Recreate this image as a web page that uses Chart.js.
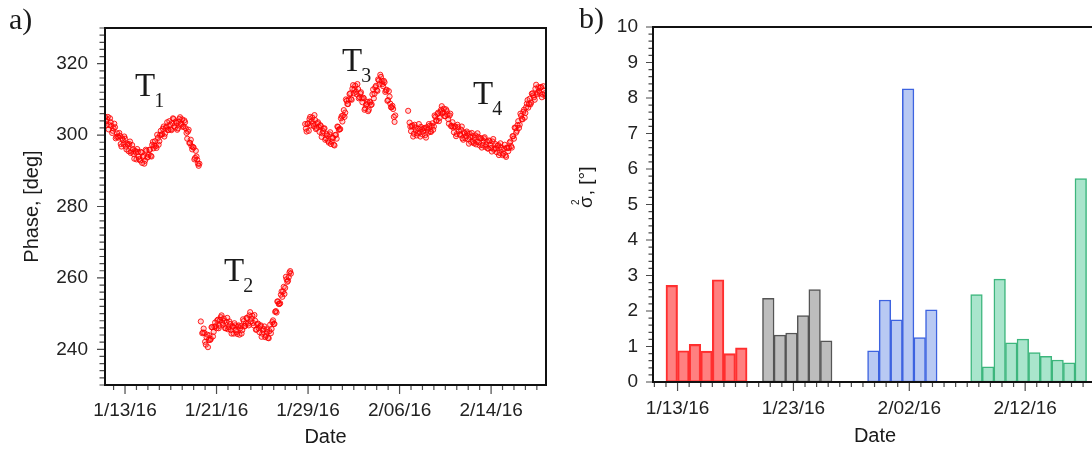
<!DOCTYPE html>
<html>
<head>
<meta charset="utf-8">
<title>Phase / sigma</title>
<script src="https://cdn.jsdelivr.net/npm/chart.js@4.4.1/dist/chart.umd.min.js"></script>
<style>
    html, body { margin: 0; padding: 0; background: #fff; overflow: hidden; }
    #wrap { position: relative; width: 1092px; height: 450px; overflow: hidden; }
    #chartFase { position: absolute; left: 0; top: 0; }
    #chartSigma { position: absolute; left: 560px; top: 0; }
</style>
</head>
<body>
<div id="wrap">
    <canvas id="chartFase" width="560" height="450"></canvas>
    <canvas id="chartSigma" width="550" height="450"></canvas>
</div>
<script>
// Fase [deg] por tramo, una lectura cada 3 h (dias contados desde 1/13/16)
const pasoDias = 0.125;

const inicioT1 = -1.75;
const faseT1 = [
    305.1, 302.8, 305.1, 302.8, 303.6, 300.6, 301.9, 302.2, 299.5, 299.6,
    300.6, 297.5, 299.1, 297.5, 299.0, 296.0, 297.3, 297.5, 295.0, 297.2,
    294.7, 295.6, 293.2, 295.3, 293.3, 295.3, 292.2, 294.2, 292.8, 295.6,
    293.9, 295.9, 294.2, 297.3, 296.3, 298.3, 296.4, 299.2, 298.3, 301.2,
    300.3, 302.4, 300.4, 302.4, 301.4, 303.9, 301.6, 303.4, 304.5, 302.1,
    303.4, 301.9, 304.5, 302.9, 304.4, 302.4, 303.6, 300.6, 301.0, 297.8,
    298.7, 296.0, 296.5, 293.6, 294.0, 292.0, 292.0
];
// lecturas intermedias (1.5 h despues)
const inicioT1b = -1.6875;
const faseT1b = [
    303.9, 304.4, 301.6, 304.7, 302.6, 301.2, 303.2, 299.1, 300.5, 299.3,
    299.8, 296.8, 298.6, 299.6, 296.8, 297.6, 295.5, 298.2, 295.4, 296.1,
    293.4, 295.2, 296.1, 293.9, 292.9, 295.1, 293.9, 292.0, 295.9, 293.7,
    294.5, 295.9, 294.0, 298.1, 297.1, 296.9, 300.1, 297.3, 300.0, 300.1,
    301.8, 299.6, 302.0, 303.6, 301.5, 302.9, 301.4, 304.7, 302.5, 303.8,
    301.5, 303.7, 305.0, 303.2, 302.3, 304.1, 301.9, 299.0, 301.5, 297.8,
    296.9, 296.7, 293.2, 295.6, 293.1, 291.4
];

const inicioT2 = 6.625;
const faseT2 = [
    247.8, 244.5, 245.8, 242.1, 243.4, 240.6, 243.9, 242.9, 246.2, 244.9,
    247.5, 245.9, 248.3, 246.6, 249.0, 247.4, 248.6, 245.9, 247.7, 245.6,
    247.8, 245.4, 246.4, 244.4, 246.7, 244.8, 246.4, 244.1, 246.5, 245.4,
    247.9, 246.6, 248.8, 247.2, 249.5, 247.8, 249.4, 246.7, 248.0, 245.5,
    247.2, 244.8, 246.7, 244.4, 245.7, 243.4, 245.6, 243.2, 245.1, 244.5,
    247.6, 247.1, 250.5, 250.3, 253.4, 252.7, 255.3, 254.7, 257.5, 257.2,
    259.6, 259.2, 261.5, 261.2
];
const inicioT2b = 6.8125;
const faseT2b = [
    244.7, 244.6, 241.3, 244.1, 242.6, 242.6, 246.2, 243.6, 246.3, 246.5,
    248.1, 245.9, 248.2, 249.5, 246.9, 247.9, 245.9, 248.8, 246.2, 247.1,
    244.4, 246.3, 247.3, 245.3, 244.3, 246.7, 245.9, 244.4, 248.4, 246.4,
    247.2, 248.7, 246.7, 250.4, 248.6, 247.4, 249.6, 245.5, 247.0, 245.9,
    246.5, 243.5, 245.3, 246.4, 243.8, 244.8, 243.1, 246.9, 245.7, 248.1,
    247.1, 250.7, 253.4, 252.7, 252.9, 256.2, 256.2, 255.5, 260.3, 258.9,
    260.2, 261.9
];

const inicioT3 = 15.75;
const faseT3 = [
    303.1, 301.0, 303.3, 304.5, 302.7, 304.9, 302.5, 304.2, 302.0, 303.6,
    300.9, 302.5, 300.5, 301.8, 298.7, 300.3, 298.4, 300.2, 297.5, 299.3,
    297.3, 300.0, 299.0, 302.3, 301.6, 304.7, 303.8, 307.0, 306.3, 309.6,
    308.7, 311.5, 310.1, 313.0, 311.7, 313.8, 311.4, 312.9, 310.6, 312.0,
    309.2, 310.3, 307.5, 308.7, 306.7, 309.4, 308.4, 311.4, 310.3, 313.4,
    312.6, 315.6, 314.2, 316.3, 314.3, 315.2, 312.1, 312.7, 309.8, 310.8,
    307.8, 308.2, 305.1, 305.5
];
const inicioT3b = 15.8125;
const faseT3b = [
    301.8, 303.1, 301.2, 305.1, 303.9, 303.2, 305.6, 301.7, 303.3, 302.3,
    302.8, 299.5, 301.1, 301.9, 299.1, 299.9, 297.9, 300.8, 298.2, 299.2,
    297.1, 300.1, 302.4, 301.5, 301.7, 305.3, 305.5, 305.1, 310.0, 308.7,
    310.0, 311.7, 309.9, 314.0, 312.8, 312.1, 314.3, 310.3, 311.7, 310.3,
    310.5, 307.1, 308.5, 309.3, 307.1, 309.2, 308.6, 312.8, 311.6, 313.8,
    312.4, 315.3, 316.9, 315.2, 313.7, 314.8, 312.5, 309.6, 312.3, 308.8,
    307.8, 307.3, 303.7
];

const inicioT4 = 24.75;
const faseT4 = [
    306.8, 303.5, 301.1, 302.7, 300.4, 302.1, 299.9, 301.8, 300.7, 302.3,
    300.2, 301.9, 300.0, 302.2, 300.7, 302.6, 300.9, 303.3, 302.4, 305.1,
    304.1, 306.3, 304.8, 307.1, 306.1, 307.4, 305.3, 306.7, 304.5, 305.5,
    302.5, 303.6, 300.8, 302.4, 300.3, 302.2, 300.2, 301.5, 299.1, 300.8,
    299.1, 301.0, 298.8, 300.4, 298.1, 299.7, 297.7, 299.9, 298.1, 299.5,
    297.1, 299.1, 297.2, 299.1, 296.7, 298.2, 296.2, 298.3, 296.4, 298.2,
    295.9, 297.5, 295.2, 297.2, 295.0, 296.6, 294.4, 296.2, 294.3, 296.5,
    295.5, 297.9, 296.9, 299.7, 299.0, 302.0, 301.2, 303.9, 302.9, 305.4,
    304.4, 307.1, 306.2, 308.8, 307.7, 310.2, 309.1, 311.7, 310.6, 313.0,
    311.4, 313.4, 311.8, 313.5, 311.4, 312.5, 310.9
];
const inicioT4b = 24.9375;
const faseT4b = [
    302.4, 302.5, 299.6, 302.9, 301.3, 300.5, 303.1, 299.6, 301.6, 301.0,
    302.0, 299.3, 301.5, 303.1, 301.0, 302.6, 301.5, 305.5, 304.0, 305.9,
    303.9, 306.5, 308.1, 306.4, 305.3, 307.2, 305.7, 303.2, 306.0, 302.6,
    302.1, 302.4, 299.7, 302.9, 301.1, 300.1, 302.4, 298.7, 300.5, 299.7,
    300.5, 297.6, 299.5, 300.6, 298.1, 299.2, 297.4, 300.5, 298.0, 299.1,
    296.5, 298.4, 299.4, 297.3, 296.3, 298.5, 297.3, 295.4, 298.9, 296.2,
    296.3, 297.0, 294.4, 297.7, 295.9, 294.8, 297.3, 293.9, 296.4, 296.4,
    298.2, 296.5, 299.7, 302.1, 300.7, 302.8, 302.0, 306.0, 304.5, 306.5,
    304.9, 307.8, 309.8, 308.7, 308.6, 311.6, 311.1, 309.9, 314.1, 311.9,
    312.4, 313.3, 310.6, 313.7, 311.7
];

// Varianza diaria sigma^2 [deg] (centro de cada barra en dias desde 1/13/16)
const sigmaRojoDias = [-0.5, 0.5, 1.5, 2.5, 3.5, 4.5, 5.5];
const sigmaRojo = [2.72, 0.88, 1.06, 0.87, 2.88, 0.80, 0.96];
const sigmaGrisDias = [7.83, 8.83, 9.83, 10.83, 11.83, 12.83];
const sigmaGris = [2.36, 1.32, 1.38, 1.87, 2.60, 1.16];
const sigmaAzulDias = [16.9, 17.9, 18.9, 19.9, 20.9, 21.9];
const sigmaAzul = [0.88, 2.31, 1.75, 8.26, 1.25, 2.03];
const sigmaVerdeDias = [25.8, 26.8, 27.8, 28.8, 29.8, 30.8, 31.8, 32.8, 33.8, 34.8];
const sigmaVerde = [2.46, 0.43, 2.90, 1.10, 1.21, 0.83, 0.72, 0.62, 0.54, 5.73];

// Marcas principales de los ejes y sus textos
const faseTickDias = [0, 8, 16, 24, 32];
const faseTickTextos = ['1/13/16', '1/21/16', '1/29/16', '2/06/16', '2/14/16'];
const faseTickValores = [240, 260, 280, 300, 320];
const sigmaTickDias = [0, 10, 20, 30];
const sigmaTickTextos = ['1/13/16', '1/23/16', '2/02/16', '2/12/16'];
const sigmaTickValores = [0, 1, 2, 3, 4, 5, 6, 7, 8, 9, 10];

// Etiquetas de cada tramo (en coordenadas de datos)
const etiquetasTramo = [
    { sub: '1', dia: 0.87, fase: 310.9 },
    { sub: '2', dia: 8.65, fase: 259.2 },
    { sub: '3', dia: 18.97, fase: 317.9 },
    { sub: '4', dia: 30.42, fase: 308.7 }
];

const FUENTE = '"Liberation Sans", Arial, sans-serif';
const SERIF = '"Liberation Serif", "Times New Roman", serif';

function aPuntos(inicio, valores) {
    return valores.map((v, i) => ({ x: inicio + i * pasoDias, y: v }));
}

function aBarras(dias, valores) {
    return valores.map((v, i) => ({ x: dias[i], y: v }));
}

function serieFase(inicio, valores) {
    return {
        data: aPuntos(inicio, valores),
        showLine: false,
        pointRadius: 2.6,
        pointBorderWidth: 1,
        borderColor: 'rgba(255, 0, 0, 0.85)',
        backgroundColor: 'rgba(255, 0, 0, 0.16)'
    };
}

function serieSigma(dias, valores, relleno, borde) {
    return {
        data: aBarras(dias, valores),
        backgroundColor: relleno,
        borderColor: borde,
        borderWidth: 1.5,
        borderSkipped: false,
        grouped: false,
        barPercentage: 1,
        categoryPercentage: 1
    };
}

function esMayor(v, mayores) {
    return mayores.some(m => Math.abs(m - v) < 1e-6);
}

// Recorre marcas menores entre min y max
function recorrerMarcas(min, max, paso, fn) {
    for (let k = Math.ceil(min / paso - 1e-9); k * paso <= max + 1e-9; k++) {
        fn(Math.round(k * paso * 1000) / 1000);
    }
}

// Plugin: marcas de ejes, marco y textos
function crearDecoracion(cfg) {
    return {
        id: cfg.id,
        afterDraw(chart) {
            const ctx = chart.ctx;
            const area = chart.chartArea;
            const ex = chart.scales.x;
            const ey = chart.scales.y;
            ctx.save();
            ctx.strokeStyle = '#4a4a4a';
            ctx.lineWidth = 1.2;
            ctx.beginPath();
            recorrerMarcas(ex.min, ex.max, cfg.pasoX, v => {
                const px = ex.getPixelForValue(v);
                const largo = esMayor(v, cfg.mayoresX) ? cfg.largoX[0] : cfg.largoX[1];
                ctx.moveTo(px, area.bottom);
                ctx.lineTo(px, area.bottom + largo);
            });
            recorrerMarcas(ey.min, ey.max, cfg.pasoY, v => {
                const py = ey.getPixelForValue(v);
                const largo = esMayor(v, cfg.mayoresY) ? cfg.largoY[0] : cfg.largoY[1];
                ctx.moveTo(area.left, py);
                ctx.lineTo(area.left - largo, py);
            });
            ctx.stroke();

            // Marco
            ctx.strokeStyle = '#111';
            ctx.lineWidth = 2;
            ctx.strokeRect(area.left, area.top, area.right - area.left, area.bottom - area.top);

            ctx.fillStyle = '#1a1a1a';
            cfg.textos(ctx, chart);
            ctx.restore();
        }
    };
}

function escalaX(min, max, dias, textos, alto, relleno) {
    return {
        type: 'linear',
        min: min,
        max: max,
        bounds: 'data',
        offset: false,
        border: { display: false },
        grid: { display: false, drawTicks: true, tickLength: 8 },
        afterBuildTicks: s => { s.ticks = dias.map(v => ({ value: v })); },
        afterFit: s => { s.height = alto; },
        ticks: {
            autoSkip: false,
            maxRotation: 0,
            padding: relleno,
            color: '#222',
            font: { family: FUENTE, size: 19 },
            callback: v => {
                const i = dias.indexOf(v);
                return i >= 0 ? textos[i] : '';
            }
        }
    };
}

function escalaY(min, max, valores, ancho, relleno) {
    return {
        type: 'linear',
        min: min,
        max: max,
        bounds: 'data',
        border: { display: false },
        grid: { display: false, drawTicks: true, tickLength: 8 },
        afterBuildTicks: s => { s.ticks = valores.map(v => ({ value: v })); },
        afterFit: s => { s.width = ancho; },
        ticks: {
            autoSkip: false,
            padding: relleno,
            color: '#222',
            font: { family: FUENTE, size: 19 },
            callback: v => String(v)
        }
    };
}

const opcionesBase = {
    responsive: false,
    animation: false,
    plugins: {
        legend: { display: false },
        tooltip: { enabled: false }
    }
};

// Grafico a) fase
new Chart(document.getElementById('chartFase'), {
    type: 'scatter',
    data: {
        datasets: [
            serieFase(inicioT1, faseT1),
            serieFase(inicioT1b, faseT1b),
            serieFase(inicioT2, faseT2),
            serieFase(inicioT2b, faseT2b),
            serieFase(inicioT3, faseT3),
            serieFase(inicioT3b, faseT3b),
            serieFase(inicioT4, faseT4),
            serieFase(inicioT4b, faseT4b)
        ]
    },
    options: Object.assign({}, opcionesBase, {
        layout: { padding: { left: 0, right: 14, top: 28, bottom: 0 } },
        scales: {
            x: escalaX(-1.75, 36.8, faseTickDias, faseTickTextos, 65, 6),
            y: escalaY(230, 330, faseTickValores, 105, 9)
        }
    }),
    plugins: [crearDecoracion({
        id: 'decorFase',
        pasoX: 1, mayoresX: faseTickDias, largoX: [9, 5],
        pasoY: 2, mayoresY: faseTickValores, largoY: [8, 5.5],
        textos(ctx, chart) {
            const a = chart.chartArea;
            ctx.textBaseline = 'alphabetic';
            ctx.textAlign = 'center';
            ctx.font = '20px ' + FUENTE;
            ctx.fillText('Date', (a.left + a.right) / 2, a.bottom + 58);
            ctx.save();
            ctx.translate(37.5, (a.top + a.bottom) / 2);
            ctx.rotate(-Math.PI / 2);
            ctx.fillText('Phase, [deg]', 0, 0);
            ctx.restore();

            ctx.textAlign = 'left';
            ctx.font = '30px ' + SERIF;
            ctx.fillText('a)', 9, 29);

            etiquetasTramo.forEach(e => {
                const px = chart.scales.x.getPixelForValue(e.dia);
                const py = chart.scales.y.getPixelForValue(e.fase);
                ctx.font = '33px ' + SERIF;
                ctx.fillText('T', px, py);
                const w = ctx.measureText('T').width;
                ctx.font = '20px ' + SERIF;
                ctx.fillText(e.sub, px + w - 1, py + 11);
            });
        }
    })]
});

// Grafico b) varianza
new Chart(document.getElementById('chartSigma'), {
    type: 'bar',
    data: {
        datasets: [
            serieSigma(sigmaRojoDias, sigmaRojo, 'rgba(255, 60, 60, 0.65)', '#ff2e2e'),
            serieSigma(sigmaGrisDias, sigmaGris, '#bdbdbd', '#555555'),
            serieSigma(sigmaAzulDias, sigmaAzul, '#b8c9f3', '#3d63e0'),
            serieSigma(sigmaVerdeDias, sigmaVerde, '#a9e5cc', '#3db67d')
        ]
    },
    options: Object.assign({}, opcionesBase, {
        layout: { padding: { left: 0, right: 13, top: 27, bottom: 0 } },
        scales: {
            x: escalaX(-2.12, 36.2, sigmaTickDias, sigmaTickTextos, 68, 7),
            y: escalaY(0, 10, sigmaTickValores, 93, 7)
        }
    }),
    plugins: [crearDecoracion({
        id: 'decorSigma',
        pasoX: 1, mayoresX: sigmaTickDias, largoX: [9, 5],
        pasoY: 0.2, mayoresY: sigmaTickValores, largoY: [7, 4.5],
        textos(ctx, chart) {
            const a = chart.chartArea;
            ctx.textBaseline = 'alphabetic';
            ctx.textAlign = 'center';
            ctx.font = '20px ' + FUENTE;
            ctx.fillText('Date', (a.left + a.right) / 2, a.bottom + 59.5);

            // sigma^2, [grados] en vertical
            ctx.save();
            ctx.translate(32, 208);
            ctx.rotate(-Math.PI / 2);
            ctx.textAlign = 'left';
            ctx.font = '19px ' + FUENTE;
            ctx.fillText('σ', 0, 0);
            const ws = ctx.measureText('σ').width;
            ctx.font = '10px ' + FUENTE;
            ctx.fillText('2', 3, -13);
            ctx.font = '19px ' + FUENTE;
            ctx.fillText(', [°]', ws + 1, 0);
            ctx.restore();

            ctx.textAlign = 'left';
            ctx.font = '30px ' + SERIF;
            ctx.fillText('b)', 19, 28);
        }
    })]
});
</script>
</body>
</html>
